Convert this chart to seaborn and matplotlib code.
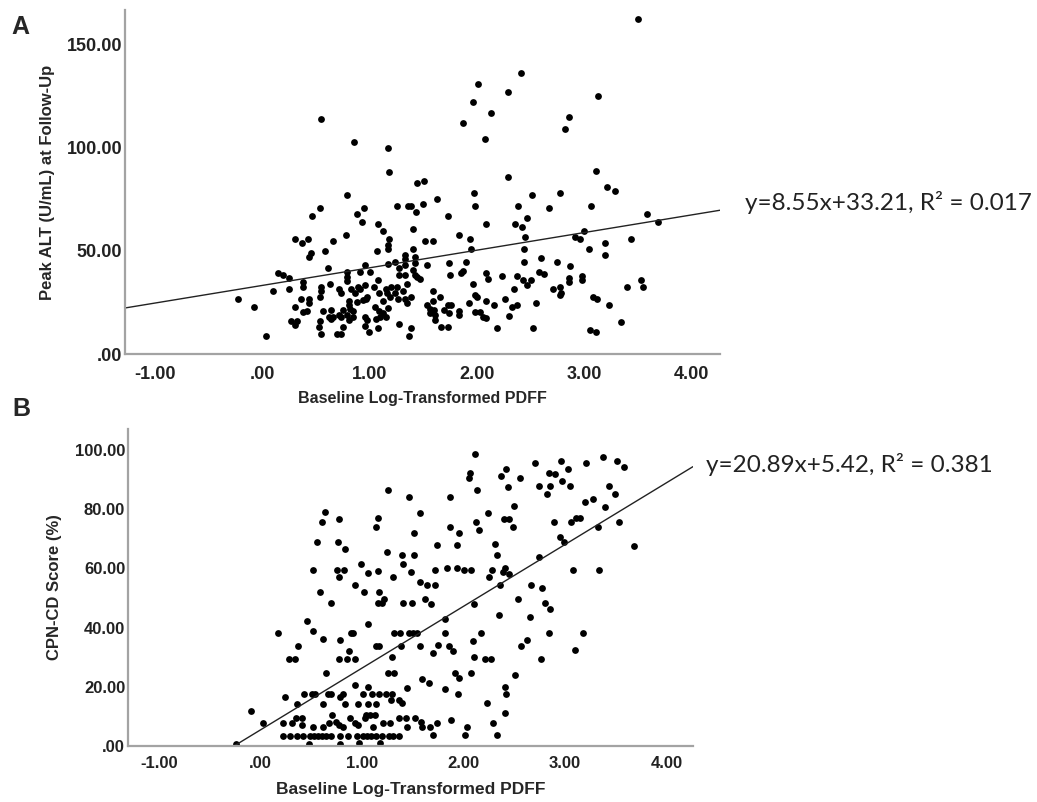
import numpy as np
import matplotlib
matplotlib.use("Agg")
import matplotlib.pyplot as plt
from matplotlib.ticker import FuncFormatter
import seaborn as sns

# ==========================
# DATA
# ==========================
alt_x = [
    0.55, 0.86, 1.17, 1.18, 0.79, 3.50, 2.41, 2.01, 2.29, 1.96, 2.13, 1.87, 2.08,
    3.13, 2.86, 2.82, 1.44, 1.51, 1.63, 1.97, 2.29, 2.51, 2.77, 3.11, 3.21, 3.29,
    0.54, 0.47, 0.88, 0.95, 0.93, 1.08, 1.26, 1.36, 1.39, 1.50, 1.43, 1.73, 1.98,
    2.09, 1.41, -0.22,
    0.31, 0.37, 0.43, 0.78, 0.66, 1.13, 1.18, 1.17, 1.17, 1.52, 1.59, 1.83, 1.94,
    0.46, 0.44, 0.59, 1.07, 1.33, 1.33, 1.41, 1.42, 1.95, 0.15, 0.20, 0.25, 0.61,
    0.79, 0.91, 0.96, 1.01, 1.17, 1.24, 1.28, 1.33, 1.42, 1.54, 1.74, 1.90, 1.41,
    1.42, 1.44, 1.47, 1.28, 1.33, 1.75, 1.87, 1.85, 2.09, 2.10, 0.10, 0.25, 0.38,
    0.38, 0.55, 0.55, 0.63, 0.54, 0.79, 0.79, 0.72, 0.74, 0.83, 0.89, 0.91, 0.87,
    0.96, 1.04, 1.08, 1.09, 1.15, 1.16, 1.19, 1.20, 1.26, 1.24, 1.27, 1.33, 1.35,
    1.31, 1.39, 1.35, 1.59, 1.59, 1.66, 1.73, 1.76, 1.83, 1.83, 1.93, 1.98, 2.00,
    2.09, 1.96, -0.07, 0.31, 0.36, 0.44, 0.44, 0.38, 0.42, 0.57, 0.64, 0.62, 0.66,
    0.72, 0.74, 0.64, 0.75, 0.81, 0.81, 0.82, 0.85, 0.88, 0.94, 0.97, 0.98, 0.79,
    0.81, 0.85, 0.96, 0.98, 1.05, 1.09, 1.13, 1.13, 1.15, 1.17, 1.10, 1.06, 0.27,
    0.33, 0.31, 0.54, 0.53, 0.55, 0.70, 0.74, 0.75, 0.96, 1.00, 1.08, 1.28, 1.37,
    1.39, 0.04, 1.54, 1.56, 1.56, 1.60, 1.61, 1.61, 1.69, 1.74, 1.67, 1.73, 2.06,
    2.09, 1.98, 2.03,
    2.38, 2.67, 3.06, 2.47, 2.36, 2.42, 3.58, 3.69, 2.45, 2.91, 2.96, 3.00, 3.19,
    3.44, 2.44, 3.04, 3.19, 2.44, 2.60, 2.75, 2.87, 2.23, 2.37, 2.43, 2.47, 2.50,
    2.58, 2.63, 2.86, 2.86, 2.98, 2.98, 3.53, 3.55, 3.40, 2.71, 2.77, 2.78, 2.77,
    2.35, 2.16, 2.26, 2.37, 2.33, 2.55, 3.08, 3.12, 3.23, 3.34, 3.05, 3.11, 2.52,
    2.19, 2.30,
]
alt_y = [
    113.8, 102.7, 99.8, 88.1, 77.0, 162.2, 136.1, 130.8, 126.9, 122.0, 116.7, 111.9, 104.1,
    124.9, 114.8, 109.0, 82.8, 83.8, 75.1, 78.0, 85.7, 77.0, 78.0, 88.6, 80.9, 78.9,
    70.7, 66.8, 67.8, 70.7, 63.9, 63.0, 71.7, 71.7, 71.7, 72.6, 68.8, 66.8, 71.7,
    63.0, 60.5, 26.6,
    55.7, 53.8, 55.7, 57.6, 54.7, 59.6, 55.7, 52.8, 50.8, 54.7, 54.7, 57.6, 55.7,
    48.9, 47.0, 49.9, 49.9, 47.9, 46.0, 50.8, 47.0, 50.8, 39.2, 38.3, 36.8, 41.6,
    39.7, 39.7, 43.1, 39.7, 43.6, 44.6, 41.6, 43.1, 44.1, 43.1, 44.1, 44.6, 40.7,
    38.3, 37.3, 36.3, 38.3, 38.3, 38.3, 40.2, 39.2, 39.2, 36.3, 30.5, 31.5, 34.9,
    32.4, 32.4, 30.5, 33.9, 27.6, 37.3, 35.3, 31.5, 29.5, 31.5, 32.4, 31.5, 29.5,
    33.4, 32.4, 35.8, 29.5, 31.5, 29.5, 27.6, 32.4, 32.4, 29.5, 26.6, 26.6, 24.7,
    30.5, 27.6, 33.9, 30.5, 25.7, 27.6, 23.7, 23.7, 20.8, 18.9, 24.7, 28.6, 27.6,
    25.7, 33.9, 22.8, 22.8, 26.6, 26.6, 24.7, 20.3, 20.8, 20.8, 21.3, 17.9, 17.9,
    18.9, 17.9, 16.9, 21.3, 25.7, 23.7, 21.8, 20.8, 25.2, 26.1, 26.6, 27.6, 18.9,
    16.5, 17.9, 17.9, 16.5, 22.8, 20.8, 25.7, 19.9, 17.9, 22.3, 17.9, 16.9, 16.0,
    16.0, 14.0, 16.0, 13.1, 9.7, 9.7, 9.7, 13.1, 13.6, 10.6, 12.6, 14.5, 8.7,
    12.6, 8.7, 23.7, 21.8, 19.9, 21.3, 18.9, 16.5, 21.3, 19.9, 13.1, 13.1, 17.9,
    17.4, 20.3, 20.3,
    71.7, 70.7, 71.7, 65.9, 63.0, 61.5, 67.8, 63.9, 56.7, 56.7, 55.7, 59.6, 53.8,
    55.7, 50.8, 50.8, 47.9, 44.6, 46.5, 44.6, 42.6, 37.8, 37.8, 35.8, 33.4, 35.8,
    39.7, 38.7, 36.8, 34.9, 37.8, 35.8, 35.8, 32.4, 32.4, 31.5, 32.4, 29.5, 28.6,
    31.5, 23.7, 26.6, 23.7, 22.8, 24.7, 27.6, 26.6, 23.7, 15.5, 11.6, 10.6, 12.6,
    12.6, 18.4,
]

cpn_x = [
    1.26, 0.64, 0.61, 0.77, 1.16, 1.14, 0.56, 0.76, 0.83, 1.25, 0.52, 0.75, 0.82,
    0.77, 0.99, 1.06, 1.16, 1.31, 0.59, 0.93, 1.02, 1.17, 0.70, 1.16, 1.20, 1.22,
    2.11, 1.46, 1.87, 2.06, 2.05, 2.13, 2.42, 2.37, 2.44, 2.56, 2.70, 2.96, 3.03,
    2.84, 2.90, 2.97, 2.74, 2.85, 3.05, 2.82, 3.21, 3.37, 3.51, 3.58, 3.43, 3.49,
    3.20, 3.27, 3.39, 1.57, 1.51, 1.87, 1.96, 2.12, 2.15, 2.24, 2.40, 2.45, 2.50,
    2.49, 2.89, 3.06, 3.11, 3.15, 3.32, 3.53, 2.95, 2.99, 1.74, 1.94, 2.31, 2.33,
    2.74, 3.68, 1.39, 1.51, 1.40, 1.48, 1.72, 1.84, 1.94, 2.00, 2.07, 2.25, 2.28,
    2.39, 2.41, 2.45, 3.08, 3.33, 1.57, 1.64, 1.72, 1.40, 1.49, 1.62, 1.68, 2.10,
    2.36, 2.66, 2.77, 2.54, 2.80, 2.85,
    0.46, 0.52, 0.62, 0.78, 0.89, 0.91, 1.06, 1.32, 0.17, 0.37, 0.28, 0.34, 0.87,
    0.77, 0.85, 0.93, 1.14, 1.17, 0.65, 1.26, 1.32, 0.93, 0.24, 0.43, 0.51, 0.54,
    0.67, 0.70, 0.78, 0.81, 1.06, 1.01, 1.10, 1.17, 1.24, 1.30, 1.29, -0.09, 0.36,
    0.62, 0.83, 0.96, 1.06, 1.14, 0.03, 0.22, 0.31, 0.35, 0.41, 0.41, 0.52, 0.62,
    0.68, 0.71, 0.74, 0.77, 0.81, 0.88, 0.93, 0.96, 1.03, 1.04, 1.08, 1.13, 1.21,
    1.28, 1.11, 1.36,
    0.22, 0.29, 0.36, 0.42, 0.49, 0.53, 0.57, 0.61, 0.65, 0.70, 0.78, 0.86, 0.95,
    1.01, 1.05, 1.09, 1.14, 1.20, 1.27, 1.31, 1.36,
    -0.24, 0.48, 0.78, 0.97, 1.18,
    1.37, 1.46, 1.50, 1.54, 1.38, 1.30, 1.57, 1.70, 1.75, 1.82, 1.86, 1.90, 2.09,
    2.17, 2.10, 2.21, 2.27, 1.39, 1.36, 1.44, 1.59, 1.66, 1.82, 1.95, 2.07, 1.92,
    1.96, 2.23, 1.43, 1.44, 1.52, 1.58, 1.59, 1.67, 1.74, 1.88, 2.03, 2.29, 1.70,
    2.01, 2.33, 2.35, 2.65, 1.82, 2.84, 3.18, 2.57, 2.62, 3.10, 2.76, 2.51, 2.41,
    2.42, 2.41,
]
cpn_y = [
    86.5, 79.1, 75.7, 76.7, 77.0, 74.0, 68.9, 68.9, 66.6, 65.5, 59.5, 59.5, 59.5,
    57.1, 61.5, 58.5, 59.1, 57.1, 52.0, 54.4, 52.0, 52.0, 48.3, 48.3, 48.3, 49.7,
    98.7, 84.1, 84.1, 92.2, 90.5, 86.5, 93.6, 91.2, 87.5, 90.5, 95.6, 96.3, 93.6,
    92.2, 91.9, 89.5, 87.8, 87.8, 87.8, 85.1, 95.6, 97.6, 96.3, 94.3, 87.8, 85.1,
    82.4, 83.5, 80.7, 78.7, 72.0, 74.0, 72.0, 75.7, 73.0, 78.7, 76.7, 76.7, 81.1,
    74.0, 75.7, 75.7, 77.0, 77.0, 74.0, 75.7, 70.6, 68.9, 67.9, 67.9, 68.2, 64.5,
    63.9, 67.6, 64.5, 64.5, 61.5, 58.8, 59.5, 60.1, 60.1, 59.5, 59.5, 57.1, 59.5,
    58.8, 60.1, 58.1, 59.5, 59.5, 55.4, 54.4, 54.4, 48.3, 48.3, 49.7, 48.0, 48.0,
    54.4, 54.4, 53.4, 49.7, 48.3, 46.3,
    42.2, 38.9, 36.2, 35.8, 38.2, 38.2, 41.2, 38.2, 38.2, 33.8, 29.4, 29.4, 32.1,
    29.4, 29.4, 29.4, 33.8, 33.8, 24.7, 24.7, 24.7, 20.6, 16.6, 17.6, 17.6, 17.6,
    17.6, 17.6, 16.6, 17.6, 19.9, 17.6, 17.6, 17.6, 17.6, 17.6, 15.6, 11.8, 14.2,
    14.2, 14.2, 14.2, 14.2, 14.2, 7.8, 7.8, 7.8, 9.5, 9.5, 7.1, 6.4, 6.4,
    7.8, 10.5, 8.1, 7.1, 6.4, 9.5, 7.8, 7.1, 9.5, 10.5, 10.5, 10.5, 7.8,
    7.8, 6.4, 9.5,
    3.4, 3.4, 3.4, 3.4, 3.4, 3.4, 3.4, 3.4, 3.4, 3.4, 3.4, 3.4, 3.4,
    3.4, 3.4, 3.4, 3.4, 3.4, 3.4, 3.4, 3.4,
    0.7, 0.7, 0.7, 1.0, 1.0,
    38.2, 38.2, 38.2, 38.2, 33.8, 30.1, 33.8, 31.4, 34.1, 38.2, 33.8, 32.1, 35.5,
    38.2, 30.1, 29.4, 29.4, 14.5, 15.6, 19.6, 22.6, 21.3, 19.3, 17.6, 24.7, 24.7,
    23.0, 14.5, 9.5, 6.4, 9.5, 8.1, 6.4, 6.4, 7.8, 8.8, 6.4, 7.8, 3.7,
    3.7, 3.7, 44.3, 43.6, 42.9, 38.2, 38.2, 33.8, 35.8, 32.4, 29.4, 24.0, 19.9,
    17.6, 11.2,
]

# fitted lines as printed on the chart
alt_fit = (8.55, 33.21, "y=8.55x+33.21, R\u00b2 = 0.017")
cpn_fit = (20.89, 5.42, "y=20.89x+5.42, R\u00b2 = 0.381")

x_ticks = [-1, 0, 1, 2, 3, 4]
alt_ticks = [0, 50, 100, 150]
cpn_ticks = [0, 20, 40, 60, 80, 100]

XLABEL = "Baseline Log-Transformed PDFF"

# ==========================
# STYLE
# ==========================
sns.set_style("white")
plt.rcParams["font.family"] = ["Liberation Sans", "DejaVu Sans"]


def spss_fmt(v, pos):
    s = f"{v:.2f}"
    if s.startswith("0."):
        s = s[1:]
    return s


def style_axes(ax, tick_size, xpad):
    for side in ("top", "right"):
        ax.spines[side].set_visible(False)
    for side in ("left", "bottom"):
        ax.spines[side].set_color("#a3a3a3")
        ax.spines[side].set_linewidth(1.6)
    ax.xaxis.set_major_formatter(FuncFormatter(spss_fmt))
    ax.yaxis.set_major_formatter(FuncFormatter(spss_fmt))
    ax.tick_params(axis="x", length=0, pad=xpad, labelsize=tick_size, colors="#222222")
    ax.tick_params(axis="y", length=0, pad=2, labelsize=tick_size, colors="#222222")
    for lab in ax.get_xticklabels() + ax.get_yticklabels():
        lab.set_fontweight("bold")


fig = plt.figure(figsize=(10.37, 8.02), dpi=100)

# ==========================
# PANEL A
# ==========================
ax_a = fig.add_axes([0.1205, 0.5586, 0.5738, 0.4289])
sns.scatterplot(x=alt_x, y=alt_y, ax=ax_a, color="black", s=24, linewidth=0)
ax_a.set_xlim(-1.276, 4.264)
ax_a.set_ylim(0, 166.7)
xs = np.array(ax_a.get_xlim())
ax_a.plot(xs, alt_fit[0] * xs + alt_fit[1], color="#222222", lw=1.0)
ax_a.set_xticks(x_ticks)
ax_a.set_yticks(alt_ticks)
style_axes(ax_a, 13, 8.5)
ax_a.set_xlabel(XLABEL, fontsize=11.5, fontweight="bold", labelpad=6)
ax_a.set_ylabel("Peak ALT (U/mL) at Follow-Up", fontsize=12, fontweight="bold", labelpad=8)

# ==========================
# PANEL B
# ==========================
ax_b = fig.add_axes([0.1234, 0.0698, 0.5448, 0.3953])
sns.scatterplot(x=cpn_x, y=cpn_y, ax=ax_b, color="black", s=24, linewidth=0)
ax_b.set_xlim(-1.303, 4.258)
ax_b.set_ylim(0, 107.1)
xs = np.array(ax_b.get_xlim())
ax_b.plot(xs, cpn_fit[0] * xs + cpn_fit[1], color="#222222", lw=1.0)
ax_b.set_xticks(x_ticks)
ax_b.set_yticks(cpn_ticks)
style_axes(ax_b, 12, 7)
ax_b.set_xlabel(XLABEL, fontsize=12.5, fontweight="bold", labelpad=8)
ax_b.set_ylabel("CPN-CD Score (%)", fontsize=12, fontweight="bold", labelpad=9)

# ==========================
# ANNOTATIONS
# ==========================
fig.text(20 / 1037, 1 - 27 / 802, "A", fontsize=18, fontweight="bold", ha="center", va="center")
fig.text(21 / 1037, 1 - 409 / 802, "B", fontsize=18, fontweight="bold", ha="center", va="center")
fig.text(745 / 1037, 1 - 203 / 802, alt_fit[2], fontsize=17.5, family=["Lato", "DejaVu Sans"],
         color="#222222", ha="left", va="center")
fig.text(706 / 1037, 1 - 464 / 802, cpn_fit[2], fontsize=17.5, family=["Lato", "DejaVu Sans"],
         color="#222222", ha="left", va="center")

plt.savefig("out.png", dpi=100)
